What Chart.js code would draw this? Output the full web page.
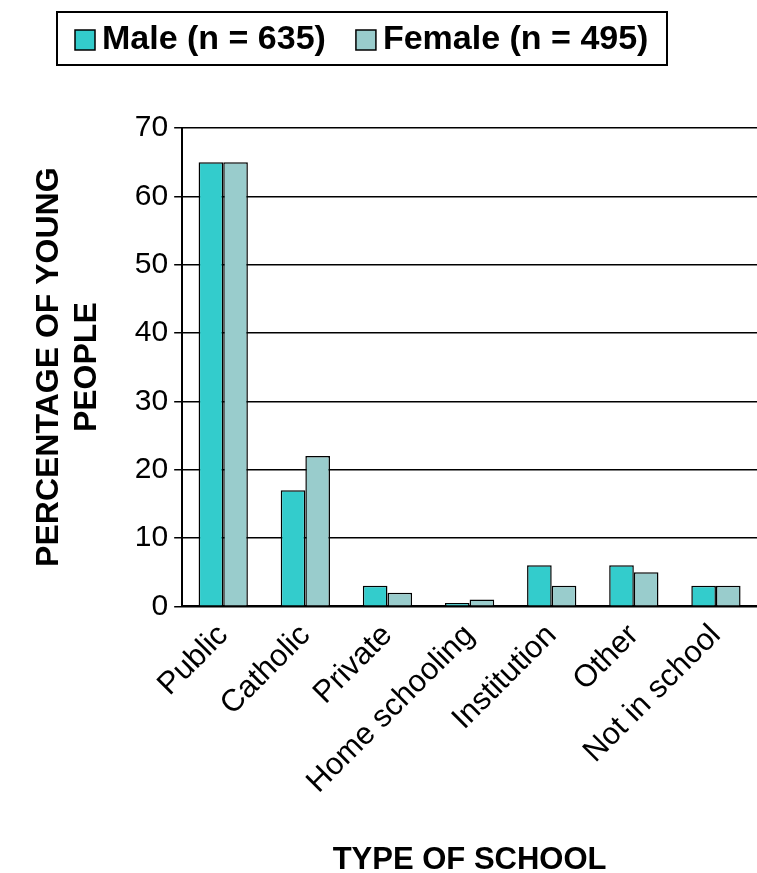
<!DOCTYPE html>
<html>
<head>
<script src="https://cdn.jsdelivr.net/npm/chart.js@4"></script>
<style>
  html, body { margin: 0; padding: 0; background: #fff; }
  #wrap { width: 757px; height: 873px; }
</style>
</head>
<body>
<div id="wrap"><canvas id="chart"></canvas></div>
<script>
const categories = ["Public", "Catholic", "Private", "Home schooling", "Institution", "Other", "Not in school"];
const maleValues = [65, 17, 3, 0.5, 6, 6, 3];
const femaleValues = [65, 22, 2, 1, 3, 5, 3];
const yTicks = [0, 10, 20, 30, 40, 50, 60, 70];

// legend drawn by hand: boxed, placed top-left like the original
const boxedLegend = {
  id: 'boxedLegend',
  afterDraw(chart) {
    const ctx = chart.ctx;
    ctx.save();
    ctx.strokeStyle = '#000';
    ctx.lineWidth = 2;
    ctx.strokeRect(57, 12, 610, 53);
    ctx.font = 'bold 34px "Liberation Sans"';
    ctx.textBaseline = 'middle';
    let x = 75;
    const y = 40;
    chart.data.datasets.forEach(ds => {
      ctx.fillStyle = ds.backgroundColor;
      ctx.fillRect(x, y - 10, 20, 20);
      ctx.lineWidth = 1.5;
      ctx.strokeRect(x, y - 10, 20, 20);
      ctx.fillStyle = '#000';
      ctx.fillText(ds.label, x + 27, y);
      x += 27 + ctx.measureText(ds.label).width + 30;
    });
    ctx.restore();
  }
};

new Chart(document.getElementById("chart"), {
  type: 'bar',
  data: {
    labels: categories,
    datasets: [
      {
        label: 'Male (n = 635)',
        data: maleValues,
        backgroundColor: '#33CCCC',
        borderColor: '#000',
        borderWidth: 1.5,
        categoryPercentage: 0.6,
        barPercentage: 1
      },
      {
        label: 'Female (n = 495)',
        data: femaleValues,
        backgroundColor: '#99CCCC',
        borderColor: '#000',
        borderWidth: 1.5,
        categoryPercentage: 0.6,
        barPercentage: 1
      }
    ]
  },
  options: {
    responsive: true,
    maintainAspectRatio: false,
    animation: false,
    layout: { padding: { top: 128, right: 0, left: 26, bottom: 0 } },
    plugins: {
      legend: { display: false },
      tooltip: { enabled: false }
    },
    scales: {
      x: {
        grid: { display: false },
        border: { color: '#000', width: 2 },
        ticks: {
          color: '#000',
          maxRotation: 45,
          minRotation: 45,
          font: { family: 'Liberation Sans', size: 31 }
        },
        title: {
          display: true,
          text: 'TYPE OF SCHOOL',
          color: '#000',
          font: { family: 'Liberation Sans', size: 31, weight: 'bold' },
          padding: { top: 38, bottom: -6 }
        }
      },
      y: {
        min: 0,
        max: 70,
        afterBuildTicks(axis) { axis.ticks = yTicks.map(v => ({ value: v })); },
        grid: { color: '#000', lineWidth: 1.5, drawTicks: true, tickLength: 8 },
        border: { color: '#000', width: 2 },
        ticks: {
          color: '#000',
          font: { family: 'Liberation Sans', size: 30 },
          padding: 6
        },
        title: {
          display: true,
          text: ['PERCENTAGE OF YOUNG', 'PEOPLE'],
          color: '#000',
          font: { family: 'Liberation Sans', size: 32, weight: 'bold' },
          padding: { bottom: 22 }
        }
      }
    }
  },
  plugins: [boxedLegend]
});
</script>
</body>
</html>
